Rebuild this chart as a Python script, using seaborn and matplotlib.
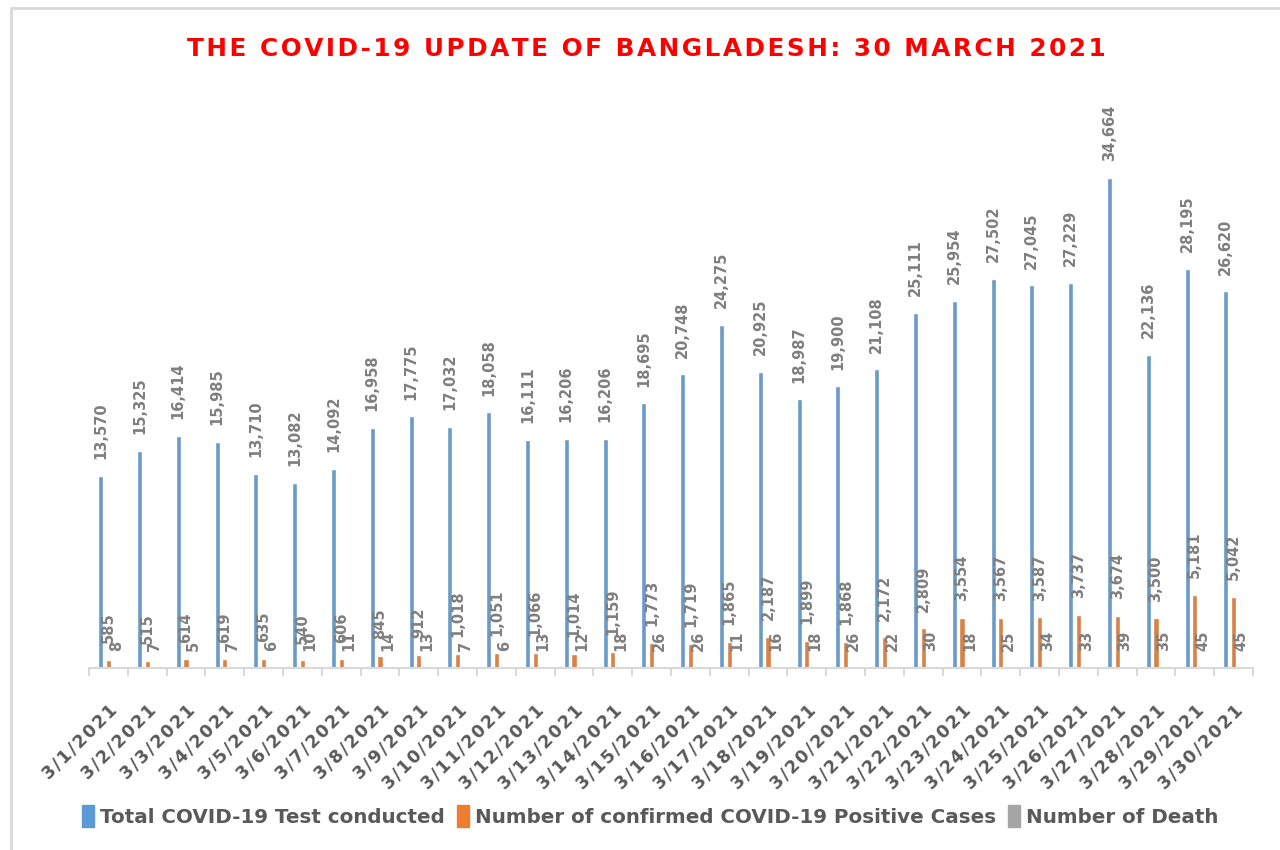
import pandas as pd
import matplotlib.pyplot as plt
import seaborn as sns
from matplotlib.patches import Patch
from matplotlib.lines import Line2D

# data (30 days of March 2021)
dates = ["3/%d/2021" % d for d in range(1, 31)]
tests = [13570, 15325, 16414, 15985, 13710, 13082, 14092, 16958, 17775, 17032,
         18058, 16111, 16206, 16206, 18695, 20748, 24275, 20925, 18987, 19900,
         21108, 25111, 25954, 27502, 27045, 27229, 34664, 22136, 28195, 26620]
cases = [585, 515, 614, 619, 635, 540, 606, 845, 912, 1018,
         1051, 1066, 1014, 1159, 1773, 1719, 1865, 2187, 1899, 1868,
         2172, 2809, 3554, 3567, 3587, 3737, 3674, 3500, 5181, 5042]
deaths = [8, 7, 5, 7, 6, 10, 11, 14, 13, 7,
          6, 13, 12, 18, 26, 26, 11, 16, 18, 26,
          22, 30, 18, 25, 34, 33, 39, 35, 45, 45]

series_names = ["Total COVID-19 Test conducted",
                "Number of confirmed COVID-19 Positive Cases",
                "Number of Death"]
colors = ["#5B9BD5", "#ED7D31", "#A5A5A5"]

df = pd.DataFrame({"date": dates * 3,
                   "value": tests + cases + deaths,
                   "series": [s for s in series_names for _ in dates]})

sns.set_theme(style="white")
plt.rcParams['font.family'] = ['DejaVu Sans']

fig = plt.figure(figsize=(12.8, 8.5), dpi=100)
ax = fig.add_axes([89 / 1280, 182 / 850, (1253 - 89) / 1280, 570 / 850])

sns.barplot(data=df, x="date", y="value", hue="series", palette=colors,
            width=0.6, gap=0.35, ax=ax, legend=False)

ax.set_xlim(-0.5, 29.5)
ax.set_ylim(0, 570 / 0.01415)

# value labels, rotated like the excel chart
for cont in ax.containers:
    ax.bar_label(cont, labels=["{:,.0f}".format(b.get_height()) for b in cont],
                 rotation=90, padding=12, color="#7F7F7F", fontsize=10.5,
                 fontweight="bold")

ax.set_xlabel("")
ax.set_ylabel("")
ax.set_yticks([])
for s in ["top", "right", "left"]:
    ax.spines[s].set_visible(False)
ax.spines["bottom"].set_color("#D9D9D9")
ax.spines["bottom"].set_linewidth(1.5)

# spaced-out date labels, tick marks on category boundaries
spaced = ["\u200a".join(d) for d in dates]
ax.set_xticks(range(30))
ax.set_xticklabels(spaced, rotation=45, ha="right", rotation_mode="anchor",
                   fontsize=12.5, fontweight="bold", color="#595959")
ax.set_xticks([i - 0.5 for i in range(31)], minor=True)
ax.tick_params(axis="x", which="major", length=0, pad=24)
ax.tick_params(axis="x", which="minor", bottom=True, length=6, width=1.5,
               color="#D9D9D9")

title = "THE COVID-19 UPDATE OF BANGLADESH: 30 MARCH 2021"
fig.text(0.505, 0.942, "\u200a".join(title),
         ha="center", va="center", color="#FF0000", fontsize=17.8, fontweight="bold")

handles = [Patch(color=c) for c in colors]
fig.legend(handles, series_names, loc="center", bbox_to_anchor=(0.508, 0.04),
           ncol=3, frameon=False, handlelength=0.6, handleheight=1.3,
           handletextpad=0.3, columnspacing=0.6,
           prop={"size": 14.3, "weight": "bold"}, labelcolor="#595959")

# chart border
fig.add_artist(Line2D([11 / 1280, 1], [1 - 8 / 850, 1 - 8 / 850], color="#D9D9D9", lw=2))
fig.add_artist(Line2D([11 / 1280, 11 / 1280], [0, 1 - 8 / 850], color="#D9D9D9", lw=2))

fig.savefig("out.png", dpi=100)
